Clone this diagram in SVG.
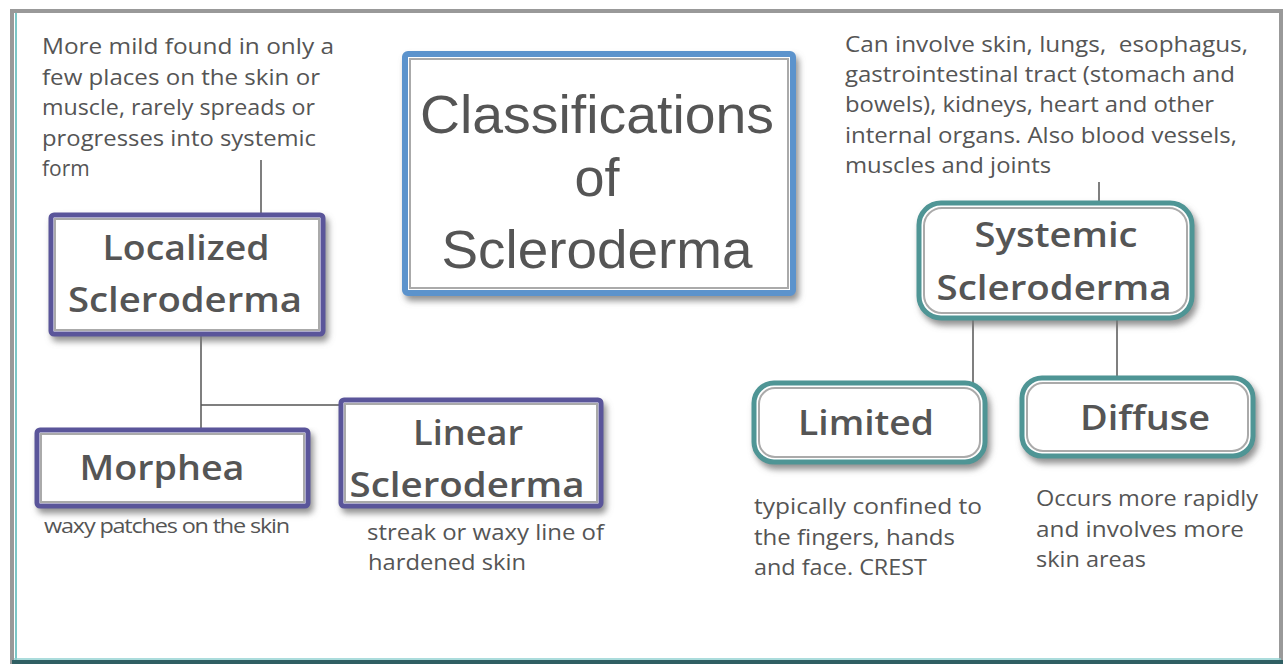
<svg xmlns="http://www.w3.org/2000/svg" width="1285" height="666" viewBox="0 0 1285 666">
<defs>
<filter id="sh" x="-10%" y="-10%" width="125%" height="130%">
<feGaussianBlur in="SourceAlpha" stdDeviation="3"/>
<feOffset dx="3" dy="5" result="b"/>
<feFlood flood-color="#777" flood-opacity="0.8"/>
<feComposite in2="b" operator="in"/>
<feMerge><feMergeNode/><feMergeNode in="SourceGraphic"/></feMerge>
</filter>
</defs>
<style>
.note{font-family:"Open Sans","Noto Sans",sans-serif;font-size:21px;fill:#555;white-space:pre}
.lbl{font-family:"Open Sans","Noto Sans",sans-serif;font-size:34px;font-weight:600;fill:#555;text-anchor:middle}
.title{font-family:"Liberation Sans",Arial,sans-serif;font-size:54px;fill:#555;text-anchor:middle}
.pbox{fill:#fff;stroke:#5a559a;stroke-width:5}
.tbox{fill:#fff;stroke:#4f9595;stroke-width:5}
.inner{fill:none;stroke:#aaa;stroke-width:2}
.conn{stroke:#555;stroke-width:1.5;fill:none}
</style>
<rect width="1285" height="666" fill="#fff"/>
<g id="frame">
<rect x="12" y="11" width="1269" height="651" fill="#fff" stroke="#999" stroke-width="4"/>
<line x1="16" y1="13" x2="16" y2="660" stroke="#4fb3b3" stroke-width="1.5"/>
<line x1="12" y1="662" x2="1283" y2="662" stroke="#2f5f63" stroke-width="4"/>
<line x1="14" y1="659" x2="1281" y2="659" stroke="#8fd0d0" stroke-width="1.5"/>
</g>
<g id="connectors">
<line class="conn" x1="261" y1="160" x2="261" y2="215"/>
<line class="conn" x1="201" y1="334" x2="201" y2="430"/>
<line class="conn" x1="201" y1="405" x2="341" y2="405"/>
<line class="conn" x1="1099" y1="182" x2="1099" y2="203"/>
<line class="conn" x1="973" y1="318" x2="973" y2="383"/>
<line class="conn" x1="1117" y1="318" x2="1117" y2="378"/>
</g>
<g id="title">
<rect x="405" y="54" width="388" height="239" rx="3" fill="#fff" stroke="#5b93cc" stroke-width="6" filter="url(#sh)"/>
<rect x="410" y="59" width="378" height="229" class="inner"/>
<text class="title" x="597" y="133" textLength="354" lengthAdjust="spacingAndGlyphs">Classifications</text>
<text class="title" x="597" y="196">of</text>
<text class="title" x="597" y="268" textLength="311" lengthAdjust="spacingAndGlyphs">Scleroderma</text>
</g>
<g id="localized-note">
<text class="note" x="42" y="54" textLength="292" lengthAdjust="spacingAndGlyphs">More mild found in only a</text>
<text class="note" x="42" y="85" textLength="278" lengthAdjust="spacingAndGlyphs">few places on the skin or</text>
<text class="note" x="42" y="115" textLength="273" lengthAdjust="spacingAndGlyphs">muscle, rarely spreads or</text>
<text class="note" x="42" y="146" textLength="274" lengthAdjust="spacingAndGlyphs">progresses into systemic</text>
<text class="note" x="42" y="176">form</text>
</g>
<g id="localized">
<rect x="51" y="215" width="272" height="119" rx="3" class="pbox" filter="url(#sh)"/>
<rect x="55" y="219" width="264" height="111" class="inner"/>
<text class="lbl" x="186" y="260" textLength="167" lengthAdjust="spacingAndGlyphs">Localized</text>
<text class="lbl" x="185" y="312" textLength="234" lengthAdjust="spacingAndGlyphs">Scleroderma</text>
</g>
<g id="morphea">
<rect x="37" y="430" width="271" height="76" rx="3" class="pbox" filter="url(#sh)"/>
<rect x="41" y="434" width="263" height="68" class="inner"/>
<text class="lbl" x="162" y="480" textLength="165" lengthAdjust="spacingAndGlyphs">Morphea</text>
<text class="note" x="44" y="533" textLength="245" lengthAdjust="spacingAndGlyphs" style="font-size:20px;letter-spacing:-1px">waxy patches on the skin</text>
</g>
<g id="linear">
<rect x="341" y="400" width="260" height="106" rx="3" class="pbox" filter="url(#sh)"/>
<rect x="345" y="404" width="252" height="98" class="inner"/>
<text class="lbl" x="468" y="445" textLength="110" lengthAdjust="spacingAndGlyphs">Linear</text>
<text class="lbl" x="467" y="497" textLength="235" lengthAdjust="spacingAndGlyphs">Scleroderma</text>
<text class="note" x="367" y="540" textLength="237" lengthAdjust="spacingAndGlyphs">streak or waxy line of</text>
<text class="note" x="368" y="570" textLength="158" lengthAdjust="spacingAndGlyphs">hardened skin</text>
</g>
<g id="systemic-note">
<text class="note" x="845" y="52" textLength="403" lengthAdjust="spacingAndGlyphs">Can involve skin, lungs,  esophagus,</text>
<text class="note" x="845" y="82" textLength="390" lengthAdjust="spacingAndGlyphs">gastrointestinal tract (stomach and</text>
<text class="note" x="845" y="112" textLength="369" lengthAdjust="spacingAndGlyphs">bowels), kidneys, heart and other</text>
<text class="note" x="845" y="143" textLength="392" lengthAdjust="spacingAndGlyphs">internal organs. Also blood vessels,</text>
<text class="note" x="845" y="173" textLength="206" lengthAdjust="spacingAndGlyphs">muscles and joints</text>
</g>
<g id="systemic">
<rect x="919" y="203" width="273" height="115" rx="22" class="tbox" filter="url(#sh)"/>
<rect x="924" y="208" width="263" height="105" rx="18" class="inner"/>
<text class="lbl" x="1056" y="247" textLength="163" lengthAdjust="spacingAndGlyphs">Systemic</text>
<text class="lbl" x="1054" y="300" textLength="235" lengthAdjust="spacingAndGlyphs">Scleroderma</text>
</g>
<g id="limited">
<rect x="754" y="383" width="231" height="79" rx="20" class="tbox" filter="url(#sh)"/>
<rect x="759" y="388" width="221" height="69" rx="16" class="inner"/>
<text class="lbl" x="866" y="435" textLength="136" lengthAdjust="spacingAndGlyphs">Limited</text>
<text class="note" x="754" y="514" textLength="228" lengthAdjust="spacingAndGlyphs">typically confined to</text>
<text class="note" x="754" y="545" textLength="201" lengthAdjust="spacingAndGlyphs">the fingers, hands</text>
<text class="note" x="754" y="575" textLength="173" lengthAdjust="spacingAndGlyphs">and face. CREST</text>
</g>
<g id="diffuse">
<rect x="1022" y="378" width="231" height="78" rx="20" class="tbox" filter="url(#sh)"/>
<rect x="1027" y="383" width="221" height="68" rx="16" class="inner"/>
<text class="lbl" x="1145" y="430" textLength="130" lengthAdjust="spacingAndGlyphs">Diffuse</text>
<text class="note" x="1036" y="506" textLength="222" lengthAdjust="spacingAndGlyphs">Occurs more rapidly</text>
<text class="note" x="1036" y="537" textLength="208" lengthAdjust="spacingAndGlyphs">and involves more</text>
<text class="note" x="1036" y="567" textLength="110" lengthAdjust="spacingAndGlyphs">skin areas</text>
</g>
</svg>
